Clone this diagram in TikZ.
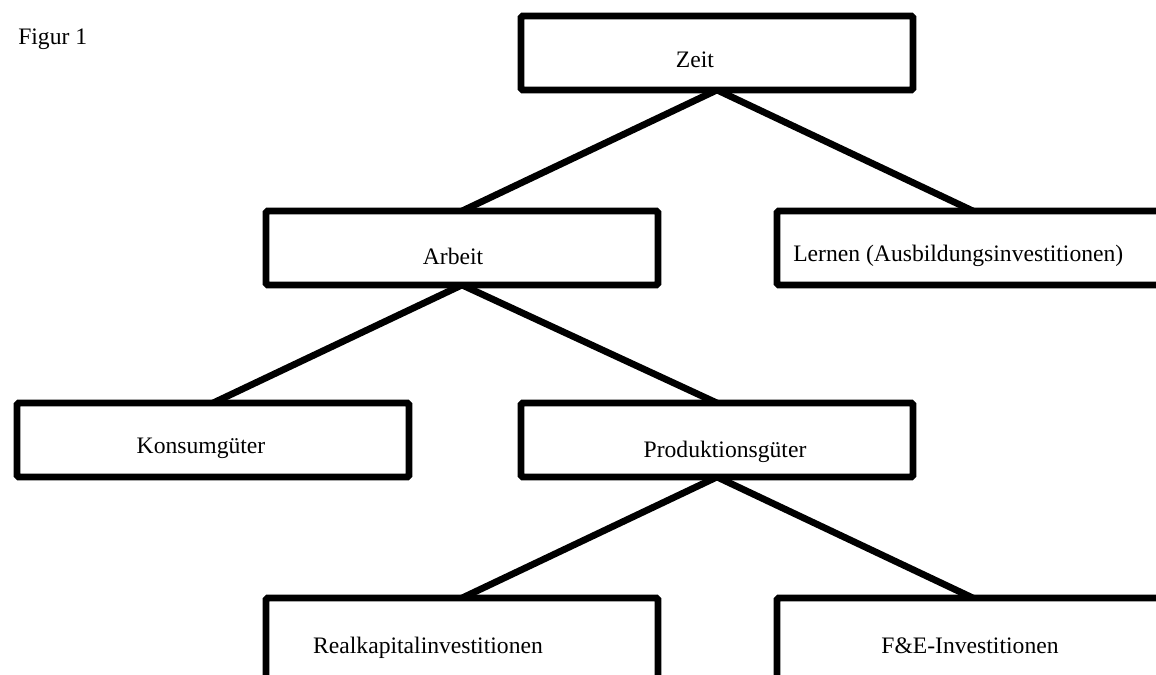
\documentclass[tikz,border=0pt]{standalone}
\usepackage{fontspec}
\setmainfont{Liberation Serif}
\usetikzlibrary{backgrounds}
\begin{document}
\begin{tikzpicture}[x=0.025cm,y=-0.025cm,
  box/.style={draw=black, fill=white, line width=4.8pt, rounded corners=1.2pt,
    minimum width=9.8cm, minimum height=1.85cm, inner sep=0pt, outer sep=0pt},
  lowbox/.style={box, minimum height=3cm, anchor=north},
  conn/.style={line width=4.8pt},
  lbl/.style={font=\fontsize{16.8}{20}\selectfont, inner sep=0pt, anchor=base}]
\useasboundingbox (0,0) rectangle (1156,675);
\clip (0,0) rectangle (1156,675);
\node[box] (zeit) at (717,53) {};
\node[box] (arbeit) at (462,248) {};
\node[box] (lernen) at (973,248) {};
\node[box] (konsum) at (213,440) {};
\node[box] (prod) at (717,440) {};
\node[lowbox] (real) at (462,598) {};
\node[lowbox] (fe) at (973,598) {};
\begin{scope}[on background layer]
\draw[conn] (zeit.south) -- (arbeit.north);
\draw[conn] (zeit.south) -- (lernen.north);
\draw[conn] (arbeit.south) -- (konsum.north);
\draw[conn] (arbeit.south) -- (prod.north);
\draw[conn] (prod.south) -- (real.north);
\draw[conn] (prod.south) -- (fe.north);
\end{scope}
\node[lbl, anchor=base west] (fig) at (18,45) {Figur 1};
\node[lbl] (tzeit) at (695,68) {Zeit};
\node[lbl] (tarbeit) at (453,265) {Arbeit};
\node[lbl, anchor=base west] (tlernen) at (793,262) {Lernen (Ausbildungsinvestitionen)};
\node[lbl] (tkonsum) at (201,453) {Konsumgüter};
\node[lbl] (tprod) at (725,457) {Produktionsgüter};
\node[lbl] (treal) at (428,653) {Realkapitalinvestitionen};
\node[lbl] (tfe) at (970,653) {F\&E-Investitionen};
\end{tikzpicture}
\end{document}
